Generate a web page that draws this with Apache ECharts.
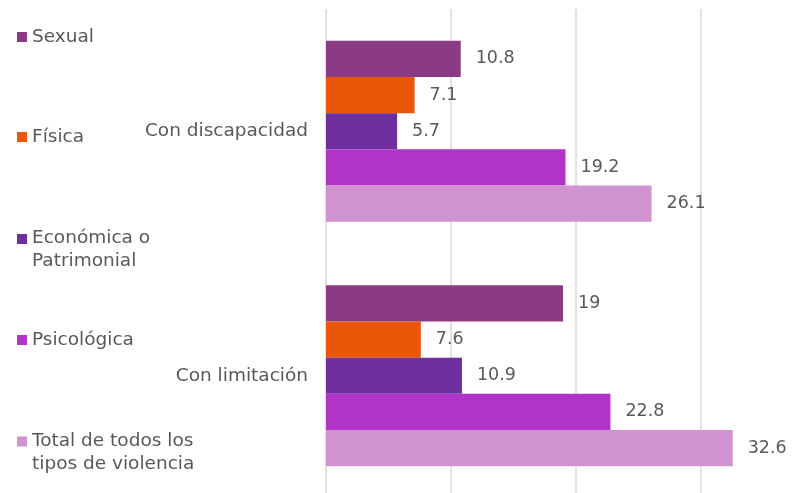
<!DOCTYPE html>
<html>
<head>
<meta charset="utf-8">
<script src="https://cdn.jsdelivr.net/npm/echarts@6/dist/echarts.min.js"></script>
<style>html,body{margin:0;padding:0;background:#fff}#c{width:808px;height:493px}</style>
</head>
<body>
<div id="c"></div>
<script>
const categories = ['Con discapacidad', 'Con limitación'];
const seriesNames = ['Sexual', 'Física', 'Económica o\nPatrimonial', 'Psicológica', 'Total de todos los\ntipos de violencia'];
const sexual = [10.8, 19];
const fisica = [7.1, 7.6];
const economica = [5.7, 10.9];
const psicologica = [19.2, 22.8];
const total = [26.1, 32.6];
const seriesValues = [sexual, fisica, economica, psicologica, total];
const colors = ['#8a3b84', '#eb5709', '#6d2f9e', '#b034c8', '#d093cf'];

const FONT = 'DejaVu Sans';
const FS = 18.5;
const TXT = '#595959';
const chart = echarts.init(document.getElementById('c'));

const legendTops = [25.5, 125.5, 227, 328.5, 429.5];
const legends = seriesNames.map((n, i) => {
  const two = n.indexOf('\n') >= 0;
  return {
    orient: 'vertical', left: 17, top: legendTops[i], padding: 0,
    data: [{ name: n, icon: two ? 'path://M0,0H10V10H0ZM0,32H10' : 'rect' }],
    itemWidth: 10, itemHeight: two ? 32 : 10, itemGap: 0,
    textStyle: { fontFamily: FONT, fontSize: FS, color: TXT, lineHeight: 23 },
    selectedMode: false
  };
});

chart.setOption({
  animation: false,
  legend: legends,
  grid: { left: 326, top: 9, width: 499, height: 489, outerBoundsMode: 'none' },
  xAxis: {
    type: 'value', min: 0, max: 40, interval: 10,
    axisLabel: { show: false }, axisLine: { show: false }, axisTick: { show: false },
    splitLine: { show: true, lineStyle: { color: '#d9d9d9', width: 1.5 } }
  },
  yAxis: {
    type: 'category', data: categories, inverse: true,
    axisLine: { show: false }, axisTick: { show: false },
    axisLabel: { margin: 18, fontFamily: FONT, fontSize: FS, color: TXT }
  },
  series: seriesNames.map((n, i) => ({
    name: n, type: 'bar', data: seriesValues[i],
    barGap: '0%', barCategoryGap: '26%',
    itemStyle: { color: colors[i] },
    label: { show: true, position: 'right', distance: 15, fontFamily: FONT, fontSize: 17.5, color: TXT }
  }))
});
</script>
</body>
</html>
